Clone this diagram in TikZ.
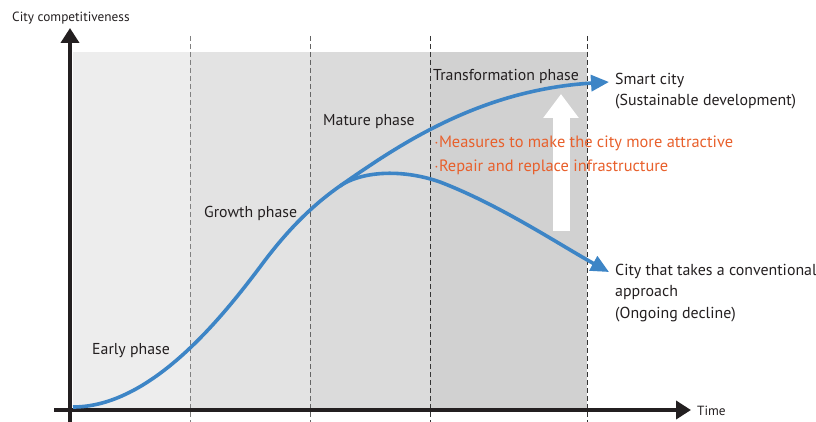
\documentclass[tikz,border=0pt]{standalone}
\usepackage{fontspec}
\setmainfont{PT Sans}
\usetikzlibrary{arrows.meta,positioning}

\definecolor{curveblue}{HTML}{3D85C6}
\definecolor{noteorange}{HTML}{E8602C}
\definecolor{inkdark}{HTML}{231F20}

\tikzset{
  phasebg/.style={draw=none},
  phasesep/.style={dashed, dash pattern=on 5pt off 3pt, line width=0.9pt},
  axisline/.style={line width=4.5pt, inkdark, -{Triangle[length=15pt, width=18pt]}},
  trend/.style={line width=3.6pt, curveblue, -{Triangle[length=18pt, width=16pt]}},
  trendbase/.style={line width=3.6pt, curveblue},
  phaselab/.style={font=\fontsize{15.8}{18}\selectfont, text=inkdark, inner sep=0pt},
  axislab/.style={font=\fontsize{13.3}{15}\selectfont, text=inkdark, inner sep=0pt},
  endlab/.style={font=\fontsize{15.9}{21.3}\selectfont, text=inkdark, inner sep=0pt, align=left, anchor=north west},
  notelab/.style={font=\fontsize{16.4}{18}\selectfont, text=noteorange, inner sep=0pt, anchor=west}
}

\begin{document}
\begin{tikzpicture}[x=1pt,y=-1pt]
  \useasboundingbox (0,0) rectangle (816,422);

  % phase bands
  \fill[phasebg, fill=black!7]  (73,52) rectangle (190,410);
  \fill[phasebg, fill=black!11] (190,52) rectangle (310,410);
  \fill[phasebg, fill=black!14] (310,52) rectangle (430,410);
  \fill[phasebg, fill=black!18] (430,52) rectangle (587,410);

  \draw[phasesep, black!50] (190,36) -- (190,422);
  \draw[phasesep, black!60] (310,36) -- (310,422);
  \draw[phasesep, black!80] (430,36) -- (430,422);
  \draw[phasesep, black!80] (587,36) -- (587,422);

  % axes
  \coordinate (ybase) at (70,422);
  \coordinate (ytop) at (70,28);
  \coordinate (xbase) at (54,410);
  \coordinate (xend) at (691,410);
  \draw[axisline] (ybase) -- (ytop);
  \draw[axisline] (xbase) -- (xend);
  \node[axislab, anchor=west] (ylab) at (12,18) {City competitiveness};
  \node[axislab, anchor=west] (xlab) at (697,411) {Time};

  % white improvement arrow
  \coordinate (upbot) at (561,231);
  \coordinate (uptop) at (561,94);
  \draw[white, line width=17pt, -{Triangle[length=24pt, width=34pt]}] (upbot) -- (uptop);

  % competitiveness curve
  \coordinate (origin) at (73,407);
  \coordinate (bend) at (260,267);
  \coordinate (fork) at (340,186);
  \coordinate (peak) at (440,182);
  \coordinate (smarttip) at (609,82);
  \coordinate (declinetip) at (609,272);
  \draw[trendbase] (origin) .. controls (150,407) and (220,320) .. (bend)
    .. controls (285,233) and (310,207) .. (fork);
  \draw[trend] (fork) .. controls (400,144) and (480,90) .. (smarttip);
  \draw[trend] (fork) .. controls (360,172) and (400,168) .. (peak)
    .. controls (500,205) and (560,245) .. (declinetip);

  % phase names
  \node[phaselab, anchor=west] (early) at (92,351) {Early phase};
  \node[phaselab, anchor=west] (growth) at (204,213) {Growth phase};
  \node[phaselab, anchor=west] (mature) at (323,122) {Mature phase};
  \node[phaselab, anchor=west] (transform) at (433,76) {Transformation phase};

  % outcomes
  \node[endlab] (smart) at (615,73) {Smart city\\(Sustainable development)};
  \node[endlab] (decline) at (615,264) {City that takes a conventional\\approach\\(Ongoing decline)};

  % measures
  \node[notelab] (attract) at (434,143) {$\cdot$Measures to make the city more attractive};
  \node[notelab, below=9pt of attract.south west, anchor=north west] (repair) {$\cdot$Repair and replace infrastructure};
\end{tikzpicture}
\end{document}
